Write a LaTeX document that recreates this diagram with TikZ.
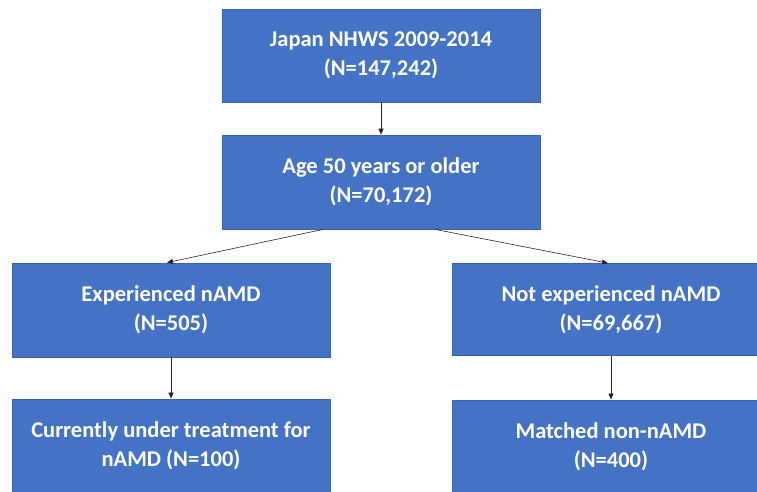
\documentclass[tikz,border=0pt]{standalone}
\usepackage{fontspec}
\setmainfont{Carlito}
\usetikzlibrary{arrows.meta}
\definecolor{boxblue}{HTML}{4472C4}
\definecolor{boxedge}{HTML}{3A62AE}
\begin{document}
\begin{tikzpicture}[x=1pt,y=1pt,
  fbox/.style={draw=boxedge,line width=0.8pt,fill=boxblue,text=white,font=\fontsize{22.5}{29}\selectfont\bfseries,align=center,inner sep=0pt,minimum width=318pt,minimum height=93pt},
  conn/.style={draw=black!85,line width=0.6pt,-{Triangle[length=6pt,width=5pt]}}]
\useasboundingbox (0,0) rectangle (757,491);
\clip (0,0) rectangle (757,491);
\fill[white] (0,0) rectangle (757,491);
\node[fbox] (a) at (381,435.5) {Japan NHWS 2009-2014\\(N=147,242)};
\node[fbox,minimum height=94pt] (b) at (381,309) {Age 50 years or older\\(N=70,172)};
\node[fbox,minimum height=94pt] (c) at (171,181) {Experienced nAMD\\(N=505)};
\node[fbox,minimum height=92pt] (d) at (611,181.5) {Not experienced nAMD\\(N=69,667)};
\node[fbox] (e) at (171,45.5) {Currently under treatment for\\nAMD (N=100)};
\node[fbox] (f) at (611,44.5) {Matched non-nAMD\\(N=400)};
\coordinate (bl) at ([xshift=-58pt]b.south);
\coordinate (br) at ([xshift=54pt]b.south);
\coordinate (cl) at ([xshift=-4pt]c.north);
\coordinate (dr) at ([xshift=-3pt]d.north);
\draw[conn] (a) -- (b);
\draw[conn] (bl) -- (cl);
\draw[conn] (br) -- (dr);
\draw[conn] (c) -- (e);
\draw[conn] (d) -- (f);
\end{tikzpicture}
\end{document}
